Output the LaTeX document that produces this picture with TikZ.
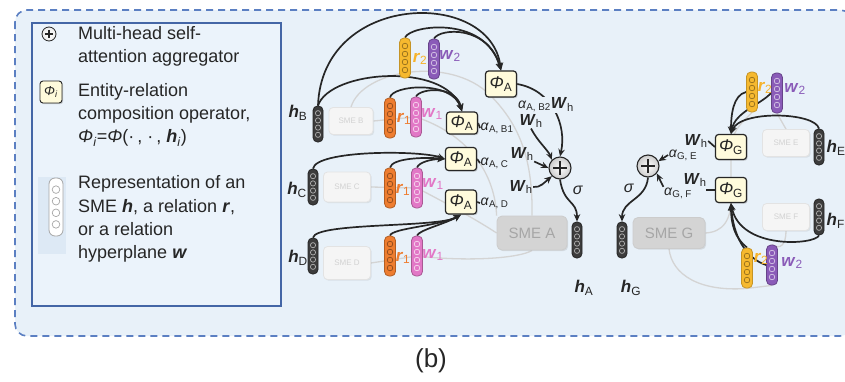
\documentclass[tikz,border=0pt]{standalone}
\usepackage{fontspec}
\setmainfont{Liberation Sans}
\usetikzlibrary{arrows.meta,calc,shadows}
\definecolor{bgblue}{HTML}{E8F1F9}
\definecolor{legfill}{HTML}{EBF3FB}
\definecolor{dashblue}{HTML}{5B7FC2}
\definecolor{legborder}{HTML}{4466A6}
\definecolor{phifill}{HTML}{FFFBDC}
\definecolor{rorange}{HTML}{EE7D30}
\definecolor{ryellow}{HTML}{F6B92F}
\definecolor{wpink}{HTML}{E277C6}
\definecolor{wpurple}{HTML}{8A5BB8}
\definecolor{hdark}{HTML}{3C3C3C}
\definecolor{smedark}{HTML}{D4D4D4}
\definecolor{smelight}{HTML}{F5F5F5}
\definecolor{faint}{HTML}{D4D4D4}
\definecolor{txt}{HTML}{262626}
\definecolor{iconbg}{HTML}{DDE9F5}
\pgfdeclarelayer{back}\pgfdeclarelayer{mid}\pgfsetlayers{back,mid,main}
\newcommand\myh{\textbf{\textit{h}}}
\newcommand\myr{\textbf{\textit{r}}}
\newcommand\myw{\textbf{\textit{w}}}
\newcommand\myW{{\fontsize{16}{16}\selectfont\textbf{\textit{W}}\textsubscript{h}}}
\newcommand\myphi[1]{\textit{Φ}\textsubscript{#1}}
\newcommand\myalpha[1]{{\fontsize{14}{14}\selectfont\textit{α}\textsubscript{#1}}}
\tikzset{
  vecbox/.style n args={4}{fill=#1, draw=#2, rounded corners=4.5pt, minimum width=11pt,
    minimum height=40pt, inner sep=0pt, line width=0.8pt,
    path picture={\foreach \k in {0.2,0.4,0.6,0.8}{\draw[#3, line width=0.7pt]
      ($(path picture bounding box.north)!\k!(path picture bounding box.south)$) circle (#4);}}},
  hvec/.style={vecbox={hdark}{black!85}{gray!60}{2.6pt}, minimum width=10pt, minimum height=36pt},
  rvecA/.style={vecbox={rorange}{rorange!75!black}{rorange!60!black}{2.8pt}},
  wvecA/.style={vecbox={wpink}{wpink!75!black}{white!70!wpink}{2.8pt}},
  rvecB/.style={vecbox={ryellow}{ryellow!80!black}{ryellow!60!black}{2.8pt}},
  wvecB/.style={vecbox={wpurple}{wpurple!75!black}{white!65!wpurple}{2.8pt}},
  phibox/.style={draw=txt, fill=phifill, rounded corners=3pt, minimum width=31pt,
    minimum height=24pt, inner sep=0pt, line width=1.2pt, text=txt,
    drop shadow={shadow xshift=1.2pt, shadow yshift=-1.2pt, opacity=0.35},
    font=\fontsize{17}{17}\selectfont},
  sumnode/.style={circle, draw=txt, line width=1.1pt, minimum size=22pt, inner sep=0pt,
    inner color=white, outer color=gray!40,
    path picture={\draw[line width=1.5pt, txt]
      ($(path picture bounding box.west)!0.2!(path picture bounding box.east)$) --
      ($(path picture bounding box.west)!0.8!(path picture bounding box.east)$)
      ($(path picture bounding box.north)!0.2!(path picture bounding box.south)$) --
      ($(path picture bounding box.north)!0.8!(path picture bounding box.south)$);}},
  smebig/.style={draw=gray!40, fill=smedark, rounded corners=5pt, text=gray!70,
    font=\fontsize{15}{15}\selectfont, inner sep=0pt, line width=0.8pt,
    drop shadow={shadow xshift=1.2pt, shadow yshift=-1.2pt, opacity=0.2}},
  smesmall/.style={draw=gray!22, fill=smelight, rounded corners=4pt, text=gray!35,
    font=\fontsize{8}{8}\selectfont, inner sep=0pt, line width=0.8pt,
    drop shadow={shadow xshift=1.2pt, shadow yshift=-1.2pt, opacity=0.15}},
  lbl/.style={text=txt, inner sep=0.5pt, font=\fontsize{17}{17}\selectfont},
  legtext/.style={align=left, text=txt, inner sep=0pt, font=\fontsize{18}{23.3}\selectfont},
  arr/.style={draw=txt, line width=1.7pt, -{Stealth[length=7.5pt,width=6.5pt]}},
  ln/.style={draw=txt, line width=1.7pt},
  faintln/.style={draw=faint, line width=1.3pt},
}
\begin{document}
\begin{tikzpicture}[x=1pt,y=-1pt]
\useasboundingbox (0,0) rectangle (845,381);
\clip (0,0) rectangle (845,381);

% ---------- nodes ----------
% legend
\node[sumnode, minimum size=14pt, line width=0.8pt, outer color=gray!15] (legsum) at (49,34) {};
\node[legtext, anchor=west] (leg1) at (78,46) {Multi-head self-\\attention aggregator};
\node[phibox, minimum width=22pt, minimum height=22pt, line width=0.9pt,
      font=\fontsize{13}{13}\selectfont] (legphi) at (51,92) {\myphi{\textit{i}}};
\node[legtext, anchor=west] (leg2) at (78,115) {Entity-relation\\composition operator,\\\textit{Φ}\textsubscript{\textit{i}}=\textit{Φ}(·\,, ·\,, \myh\textsubscript{\textit{i}})};
\node[vecbox={white}{gray!70}{gray!70}{3.8pt}, minimum width=14pt, minimum height=58pt,
      rounded corners=6pt] (legvec) at (56,207) {};
\node[legtext, anchor=west] (leg3) at (78,219) {Representation of an\\SME \myh, a relation \myr,\\or a relation\\hyperplane \myw};

% SME boxes
\node[smebig, minimum width=70pt, minimum height=34pt] (smeA) at (532,233) {SME A};
\node[smebig, minimum width=72pt, minimum height=31pt] (smeG) at (669,233) {SME G};
\node[smesmall, minimum width=44pt, minimum height=27pt] (smeB) at (351,121) {SME B};
\node[smesmall, minimum width=47pt, minimum height=30pt] (smeC) at (347,187) {SME C};
\node[smesmall, minimum width=47pt, minimum height=33pt] (smeD) at (347,263) {SME D};
\node[smesmall, minimum width=47pt, minimum height=27pt] (smeE) at (786,143) {SME E};
\node[smesmall, minimum width=47pt, minimum height=27pt] (smeF) at (786,217) {SME F};

% vectors
\node[hvec] (hB) at (318,124) {};
\node[hvec] (hC) at (313,187) {};
\node[hvec] (hD) at (313,256) {};
\node[hvec] (hA) at (577,240) {};
\node[hvec] (hG) at (622,240) {};
\node[hvec] (hE) at (819,147) {};
\node[hvec] (hF) at (819,217) {};
\node[rvecA] (r1B) at (390,118) {};
\node[wvecA] (w1B) at (416,117) {};
\node[rvecA] (r1C) at (390,188) {};
\node[wvecA] (w1C) at (417,188) {};
\node[rvecA] (r1D) at (390,256) {};
\node[wvecA] (w1D) at (417,256) {};
\node[rvecB] (r2L) at (405,58) {};
\node[wvecB] (w2L) at (434,59) {};
\node[rvecB] (r2E) at (752,92) {};
\node[wvecB] (w2E) at (777,93) {};
\node[rvecB] (r2F) at (747,268) {};
\node[wvecB] (w2F) at (772,265) {};

% composition operators and aggregators
\node[phibox, minimum height=26pt] (phiB2) at (501,84) {\myphi{A}};
\node[phibox, minimum height=22pt] (phiB1) at (462,123) {\myphi{A}};
\node[phibox, minimum height=23pt] (phiC) at (461,159) {\myphi{A}};
\node[phibox, minimum height=24pt] (phiD) at (461,202) {\myphi{A}};
\node[phibox, minimum height=25pt] (phiGE) at (731,147) {\myphi{G}};
\node[phibox, minimum height=25pt] (phiGF) at (731,190) {\myphi{G}};
\node[sumnode] (sumA) at (560,168) {};
\node[sumnode] (sumG) at (648,166) {};

% labels
\node[lbl] (hBl) at (298,113) {\myh\textsubscript{B}};
\node[lbl] (hCl) at (297,190) {\myh\textsubscript{C}};
\node[lbl] (hDl) at (298,258) {\myh\textsubscript{D}};
\node[lbl] (hAl) at (584,288) {\myh\textsubscript{A}};
\node[lbl] (hGl) at (631,288) {\myh\textsubscript{G}};
\node[lbl, anchor=west] (hEl) at (826,148) {\myh\textsubscript{E}};
\node[lbl, anchor=west] (hFl) at (826,221) {\myh\textsubscript{F}};
\node[lbl, text=rorange] (r1Bl) at (404,119) {\myr\textsubscript{1}};
\node[lbl, text=wpink] (w1Bl) at (432,114) {\myw\textsubscript{1}};
\node[lbl, text=rorange] (r1Cl) at (403,190) {\myr\textsubscript{1}};
\node[lbl, text=wpink] (w1Cl) at (433,184) {\myw\textsubscript{1}};
\node[lbl, text=rorange] (r1Dl) at (403,258) {\myr\textsubscript{1}};
\node[lbl, text=wpink] (w1Dl) at (433,255) {\myw\textsubscript{1}};
\node[lbl, text=ryellow!90!orange] (r2Ll) at (420,59) {\myr\textsubscript{2}};
\node[lbl, text=wpurple] (w2Ll) at (450,56) {\myw\textsubscript{2}};
\node[lbl, text=ryellow!90!orange] (r2El) at (765,88) {\myr\textsubscript{2}};
\node[lbl, text=wpurple] (w2El) at (795,89) {\myw\textsubscript{2}};
\node[lbl, text=ryellow!90!orange] (r2Fl) at (761,259) {\myr\textsubscript{2}};
\node[lbl, text=wpurple] (w2Fl) at (792,263) {\myw\textsubscript{2}};
\node[lbl, fill=bgblue, inner sep=1pt] (alphaB2) at (546,105) {\myalpha{A, B2}\myW};
\node[lbl, anchor=west] (alphaB1) at (480,128) {\myalpha{A, B1}};
\node[lbl] (WB1) at (531,121) {\myW};
\node[lbl, anchor=west] (alphaC) at (480,163) {\myalpha{A, C}};
\node[lbl] (WC) at (522,154) {\myW};
\node[lbl, anchor=west] (alphaD) at (480,203) {\myalpha{A, D}};
\node[lbl] (WD) at (521,187) {\myW};
\node[lbl] (sigA) at (578,190) {\fontsize{16}{16}\selectfont\textit{σ}};
\node[lbl] (WGE) at (696,141) {\myW};
\node[lbl] (alphaGE) at (683,155) {\myalpha{G, E}};
\node[lbl] (WGF) at (695,180) {\myW};
\node[lbl] (alphaGF) at (678,193) {\myalpha{G, F}};
\node[lbl] (sigG) at (629,188) {\fontsize{16}{16}\selectfont\textit{σ}};
\node[text=txt, font=\fontsize{26}{26}\selectfont] (cap) at (431,361) {(b)};
\coordinate (gfl) at (706,190);

% ---------- background ----------
\begin{pgfonlayer}{back}
\fill[white] (0,0) rectangle (845,381);
\path[fill=bgblue, draw=dashblue, line width=1.6pt, dash pattern=on 7pt off 5pt,
      rounded corners=12pt] (15,10) rectangle (852,336);
\draw[legborder, fill=legfill, line width=1.5pt] (32,23) rectangle (281,306);
\fill[iconbg] (38,177) rectangle (66,254);
% faint graph edges
\draw[faintln] (smeB.north) .. controls (362,70) and (450,55) .. (490,95)
   .. controls (520,125) and (533,160) .. (smeA.north);
\draw[faintln] (smeB.east) -- (w1B.center) .. controls (470,135) and (495,175) .. (smeA.north west);
\draw[faintln] (smeC.east) -- (w1C.center) .. controls (450,205) and (480,222) .. (smeA.west);
\draw[faintln] (smeD.east) -- (w1D.center) .. controls (470,262) and (520,258) .. (smeA.south);
\draw[faintln] (smeE.north) -- (w2E.south);
\draw[faintln] (r2E.south) .. controls (745,120) and (733,128) .. (phiGE.center) -- (phiGF.center)
   .. controls (733,222) and (722,232) .. (smeG.east);
\draw[faintln] (smeF.south) .. controls (786,245) and (780,250) .. (w2F.north);
\draw[faintln] (smeG.south) .. controls (672,275) and (700,292) .. (r2F.south) -- (w2F.south);
\end{pgfonlayer}

% ---------- connectors ----------
\begin{pgfonlayer}{mid}
\draw[arr] (hB.north) .. controls (322,-8) and (490,-12) .. (phiB2.north);
\draw[arr] (hB.north) .. controls (330,70) and (445,62) .. (phiB1.north);
\draw[arr] (r2L.north) .. controls (410,25) and (485,15) .. (phiB2.north);
\draw[arr] (w2L.north) .. controls (440,28) and (488,25) .. (phiB2.north);
\draw[arr] (r1B.north) .. controls (392,85) and (452,80) .. (phiB1.north);
\draw[arr] (w1B.north) .. controls (420,88) and (456,85) .. (phiB1.north);
\draw[arr] (hC.north) .. controls (316,150) and (420,150) .. (phiC.west);
\draw[arr] (r1C.north) .. controls (392,158) and (425,157) .. (phiC.west);
\draw[arr] (w1C.north) .. controls (419,162) and (432,159) .. (phiC.west);
\draw[arr] (hD.north) .. controls (316,222) and (440,228) .. (phiD.south);
\draw[arr] (r1D.north) .. controls (392,228) and (440,226) .. (phiD.south);
\draw[arr] (w1D.north) .. controls (419,230) and (445,224) .. (phiD.south);
\draw[arr] (phiB2.east) .. controls (552,90) and (567,125) .. (sumA.north);
\draw[ln] (phiB1.east) -- (alphaB1.west);
\draw[arr] (WB1.south) .. controls (538,142) and (548,150) .. (sumA.north west);
\draw[ln] (phiC.east) -- (alphaC.west);
\draw[arr] (WC.south east) -- (sumA.west);
\draw[ln] (phiD.east) -- (alphaD.west);
\draw[arr] (WD.east) .. controls (540,188) and (545,182) .. (sumA.south west);
\draw[arr] (sumA.south) .. controls (564,205) and (577,200) .. (hA.north);
% right part
\draw[arr] (r2E.west) .. controls (733,95) and (731,115) .. (phiGE.north);
\draw[arr] (w2E.west) .. controls (760,105) and (735,112) .. (phiGE.north);
\draw[arr] (hE.north) .. controls (815,112) and (740,110) .. (phiGE.north);
\draw[arr] (hF.south) .. controls (815,245) and (740,250) .. (phiGF.south);
\draw[arr] (r2F.north) .. controls (735,238) and (731,225) .. (phiGF.south);
\draw[arr] (w2F.west) .. controls (745,258) and (733,235) .. (phiGF.south);
\draw[ln] (phiGE.west) -- (WGE.east);
\draw[ln] (phiGF.west) -- (gfl);
\draw[arr] (alphaGE.west) -- (sumG.25);
\draw[arr] (alphaGF.north west) -- (sumG.-40);
\draw[arr] (sumG.south) .. controls (646,200) and (622,200) .. (hG.north);
\end{pgfonlayer}
\end{tikzpicture}
\end{document}
